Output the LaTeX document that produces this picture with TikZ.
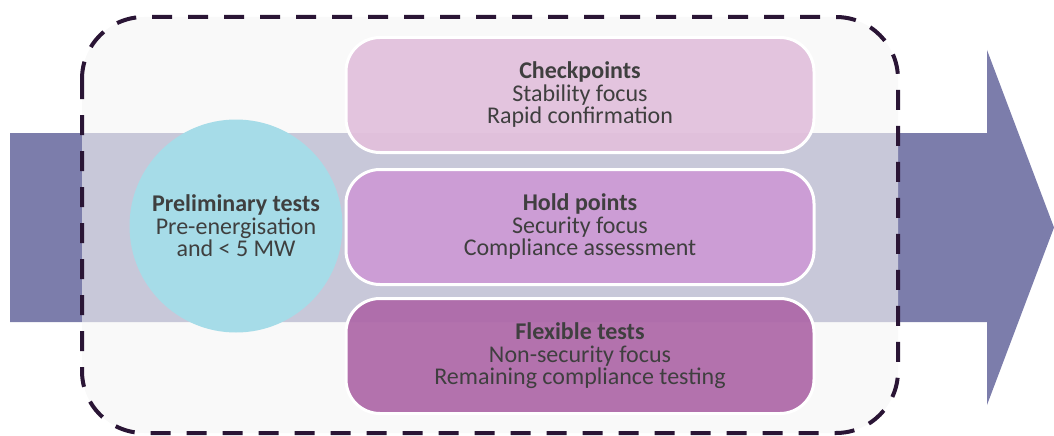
\documentclass[tikz,border=0pt]{standalone}
\usepackage{fontspec}
\setmainfont{Carlito}
\usepackage{tikz}
\definecolor{flow}{HTML}{7C7DAB}
\definecolor{frame}{HTML}{2A1535}
\definecolor{pale}{HTML}{F5F5F5}
\definecolor{sky}{HTML}{A6DCE8}
\definecolor{chk}{HTML}{E2C0DC}
\definecolor{hold}{HTML}{CD9AD5}
\definecolor{flex}{HTML}{AE68A8}
\definecolor{ink}{HTML}{3F3F3F}
\tikzset{
  stage/.style={rectangle,rounded corners=34pt,draw=white,line width=3pt,
    minimum width=468pt,minimum height=115pt,align=center,text=ink,
    font=\fontsize{24}{22.5}\selectfont,fill opacity=0.93,text opacity=1}
}

\begin{document}
\begin{tikzpicture}[x=1pt,y=-1pt]
\useasboundingbox (0,0) rectangle (1054,436);
\fill[flow] (10,133) -- (987,133) -- (987,50) -- (1054,227.5) -- (987,405) -- (987,322) -- (10,322) -- cycle;
\draw[frame,line width=4pt,dash pattern=on 20pt off 16pt,rounded corners=62pt,fill=pale,fill opacity=0.63] (82,17) rectangle (898,433);
\node[circle,fill=sky,minimum size=213pt,inner sep=0pt,align=center,text=ink,font=\fontsize{24}{22.5}\selectfont] (p) at (236,226) {\textbf{Preliminary tests}\\Pre-energisation\\and < 5 MW};
\node[stage,fill=chk] (c) at (580,95) {\textbf{Checkpoints}\\Stability focus\\Rapid confirmation};
\node[stage,fill=hold] (h) at (580,227) {\textbf{Hold points}\\Security focus\\Compliance assessment};
\node[stage,fill=flex] (f) at (580,356) {\textbf{Flexible tests}\\Non-security focus\\Remaining compliance testing};
\end{tikzpicture}
\end{document}
